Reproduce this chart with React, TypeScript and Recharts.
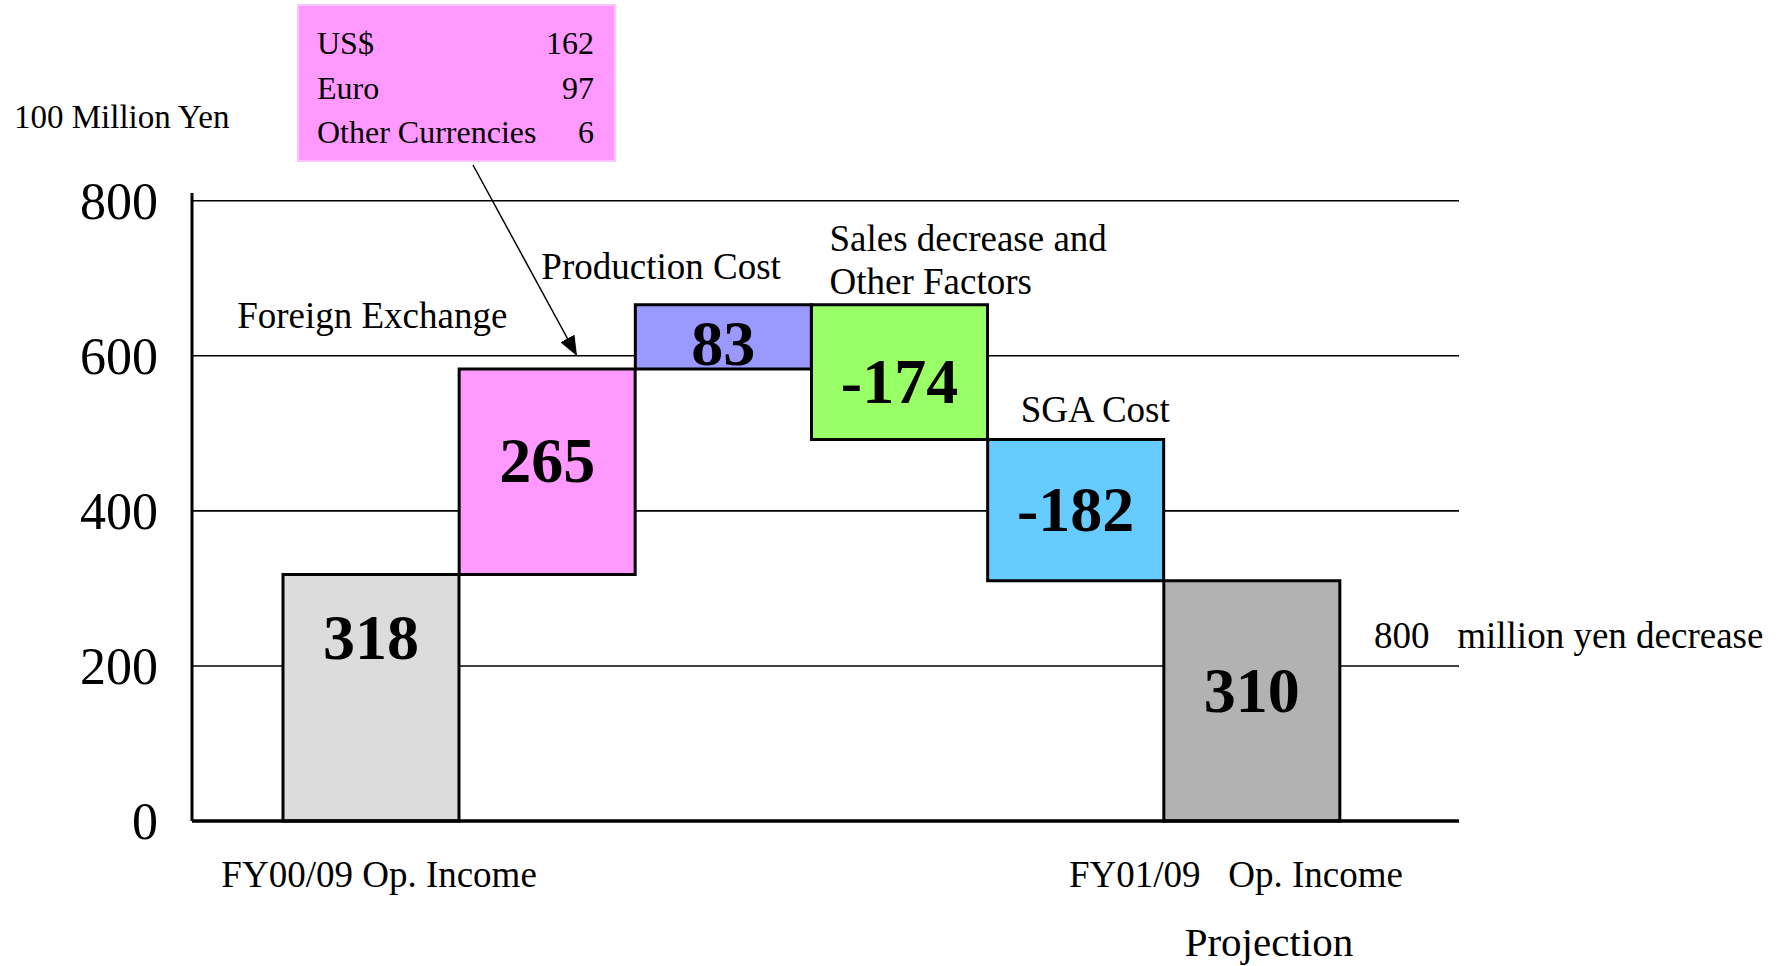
import { BarChart, Bar, XAxis, YAxis, CartesianGrid, Cell, LabelList } from "recharts";

const serif = "'Liberation Serif', 'Times New Roman', serif";

// waterfall steps, first and last are totals
const categories = [
  "FY00/09 Op. Income",
  "Foreign Exchange",
  "Production Cost",
  "Sales decrease and\nOther Factors",
  "SGA Cost",
  "FY01/09   Op. Income\nProjection",
];
const changes = [318, 265, 83, -174, -182, 310];
const isTotal = [true, false, false, false, false, true];
const barColors = ["#DCDCDC", "#FF99FF", "#9999FF", "#99FF66", "#66CCFF", "#B2B2B2"];
const yTicks = [0, 200, 400, 600, 800];

// foreign exchange breakdown box
const fxLabels = ["US$", "Euro", "Other Currencies"];
const fxValues = [162, 97, 6];

const unitLabel = "100 Million Yen";
const decreaseNote = "800   million yen decrease";

// where the step names sit, relative to the top-left corner of their bar
const annotationOffsets: Record<number, { dx: number; dy: number }> = {
  1: { dx: -222, dy: -54 },
  2: { dx: -94, dy: -39 },
  3: { dx: 18, dy: -67 },
  4: { dx: 33, dy: -30 },
};
// nudges for the value labels (first one hangs from the top of its bar)
const valueLabelDy = [62, -12, 6, 9, -2, -11];
// horizontal nudges for the two lines under the last bar
const lastTickDx = [-16, 17];

let running = 0;
const data = categories.map((name, i) => {
  const v = changes[i];
  let range: [number, number];
  if (isTotal[i]) {
    range = [0, v];
    running = v;
  } else {
    const start = running;
    running += v;
    range = [Math.min(start, running), Math.max(start, running)];
  }
  return { name, value: v, range };
});

const ValueLabel = (props: any) => {
  const { x, y, width, height, index } = props;
  const top = Math.min(y, y + height);
  const h = Math.abs(height);
  const cy = index === 0 ? top + valueLabelDy[0] : top + h / 2 + valueLabelDy[index];
  return (
    <text
      x={x + width / 2}
      y={cy}
      dy="0.35em"
      textAnchor="middle"
      fontSize={64}
      fontWeight="bold"
      fontFamily={serif}
      fill="#000"
    >
      {changes[index]}
    </text>
  );
};

const StepName = (props: any) => {
  const { x, y, height, index } = props;
  if (isTotal[index]) return <g />;
  const top = Math.min(y, y + height);
  const off = annotationOffsets[index];
  const lines = categories[index].split("\n");
  return (
    <g>
      {lines.map((line, j) => (
        <text
          key={j}
          x={x + off.dx}
          y={top + off.dy + j * 43}
          dy="0.35em"
          fontSize={37}
          fontFamily={serif}
          fill="#000"
        >
          {line}
        </text>
      ))}
    </g>
  );
};

const CategoryTick = (props: any) => {
  const { x, y, payload } = props;
  const i = payload.index;
  if (!isTotal[i]) return <g />;
  const lines = categories[i].split("\n");
  const last = i === categories.length - 1;
  return (
    <g>
      {lines.map((line, j) => (
        <text
          key={j}
          x={x + (last ? lastTickDx[j] : 8)}
          y={y + 53 + j * 68}
          dy="0.35em"
          textAnchor="middle"
          fontSize={j === 0 ? 37 : 41}
          fontFamily={serif}
          fill="#000"
          style={{ whiteSpace: "pre" }}
        >
          {line}
        </text>
      ))}
    </g>
  );
};

export default function App() {
  return (
    <div style={{ position: "absolute", left: 0, top: 0, width: 1787, height: 966, background: "#fff" }}>
      <BarChart
        width={1787}
        height={966}
        data={data}
        margin={{ top: 193, right: 328, bottom: 6, left: 0 }}
        barCategoryGap={0}
        barGap={0}
      >
        <CartesianGrid vertical={false} horizontalValues={yTicks} stroke="#000" strokeWidth={1.6} />
        <XAxis
          dataKey="name"
          type="category"
          padding={{ left: 91, right: 119 }}
          height={139}
          tickLine={false}
          tickSize={0}
          tickMargin={0}
          interval={0}
          axisLine={{ stroke: "#000", strokeWidth: 3.5 }}
          tick={<CategoryTick />}
        />
        <YAxis
          width={192}
          domain={[0, 810]}
          ticks={yTicks}
          tickLine={false}
          tickMargin={28}
          axisLine={{ stroke: "#000", strokeWidth: 3 }}
          tick={{ fontSize: 52, fill: "#000", fontFamily: serif }}
        />
        <Bar dataKey="range" isAnimationActive={false} stroke="#000" strokeWidth={3}>
          {data.map((d, i) => (
            <Cell key={d.name} fill={barColors[i]} />
          ))}
          <LabelList dataKey="value" content={<ValueLabel />} />
          <LabelList dataKey="name" content={<StepName />} />
        </Bar>
      </BarChart>

      <svg
        width={1787}
        height={966}
        style={{ position: "absolute", left: 0, top: 0, pointerEvents: "none" }}
        fontFamily={serif}
      >
        <defs>
          <marker id="arrowHead" markerWidth="20" markerHeight="16" refX="20" refY="8" orient="auto" markerUnits="userSpaceOnUse">
            <path d="M0,0 L20,8 L0,16 z" fill="#000" />
          </marker>
        </defs>
        <text x={14} y={116} dy="0.35em" fontSize={33} fill="#000">
          {unitLabel}
        </text>
        <rect x={298} y={5} width={317} height={156} fill="#FF99FF" stroke="#FFC4FF" strokeWidth={2} />
        {fxLabels.map((label, i) => (
          <g key={label}>
            <text x={317} y={43 + i * 44.5} dy="0.35em" fontSize={32} fill="#000">
              {label}
            </text>
            <text x={594} y={43 + i * 44.5} dy="0.35em" fontSize={32} fill="#000" textAnchor="end">
              {fxValues[i]}
            </text>
          </g>
        ))}
        <line x1={473} y1={165} x2={577} y2={356} stroke="#000" strokeWidth={1.5} markerEnd="url(#arrowHead)" />
        <text x={1374} y={635} dy="0.35em" fontSize={37} fill="#000" style={{ whiteSpace: "pre" }}>
          {decreaseNote}
        </text>
      </svg>
    </div>
  );
}
